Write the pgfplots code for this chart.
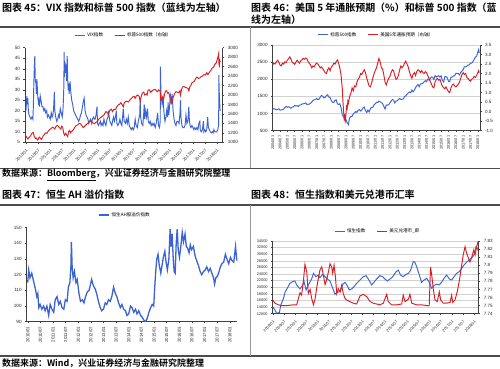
\documentclass[border=0pt]{standalone}
\usepackage{fontspec}
\setmainfont{Liberation Sans}
\newfontfamily\cjk{Noto Sans CJK SC}[BoldFont={Noto Sans CJK SC Bold}]
\usepackage{pgfplots}
\pgfplotsset{compat=1.18}
\definecolor{sblue}{RGB}{59,99,214}
\definecolor{sred}{RGB}{218,30,35}
\pgfplotsset{
  base/.style={
    scale only axis, anchor=south west,
    scaled ticks=false,
    /pgf/number format/assume math mode=true,
    /pgf/number format/1000 sep={},
    tick label style={font=\fontsize{4.6}{5}\selectfont, text=black!85},
    tick align=outside, major tick length=1.6bp,
    axis line style={black!75, line width=0.5bp},
    tick style={black!75, line width=0.4bp},
    legend image code/.code={\draw[#1] (0bp,0bp) -- (10bp,0bp);},
    legend style={draw=none, fill=none, font=\cjk\fontsize{4.6}{5}\selectfont, legend columns=2, anchor=center,
      /tikz/every even column/.append style={column sep=9bp}},
    every axis plot/.append style={line width=0.95bp},
  }
}
\begin{document}
\begin{tikzpicture}
\fill[white] (0,0) rectangle (500bp,369bp);
\path[use as bounding box] (0,0) rectangle (500bp,369bp);
% frames
\draw[black!70, line width=1.6bp] (0,342bp) -- (500bp,342bp);
\draw[black!70, line width=1.4bp] (0,200.5bp) -- (500bp,200.5bp);
\draw[black!70, line width=1.6bp] (0,164bp) -- (500bp,164bp);
\draw[black!70, line width=1.4bp] (0,13bp) -- (500bp,13bp);
\draw[black!40, line width=0.6bp] (250bp,342bp) -- (250bp,200.5bp);
\draw[black!40, line width=0.6bp] (250bp,164bp) -- (250bp,13bp);
% titles
\node[anchor=west, inner sep=0, font=\cjk\bfseries\fontsize{10}{12}\selectfont] at (2bp,361.5bp) {图表 45：VIX 指数和标普 500 指数（蓝线为左轴）};
\node[anchor=west, inner sep=0, font=\cjk\bfseries\fontsize{10}{12}\selectfont] at (251bp,361.7bp) {图表 46：美国 5 年通胀预期（\%）和标普 500 指数（蓝};
\node[anchor=west, inner sep=0, font=\cjk\bfseries\fontsize{10}{12}\selectfont] at (251bp,349.7bp) {线为左轴）};
\node[anchor=west, inner sep=0, font=\cjk\bfseries\fontsize{9}{11}\selectfont] at (2bp,194.5bp) {数据来源：\underline{Bloomberg}，兴业证券经济与金融研究院整理};
\node[anchor=west, inner sep=0, font=\cjk\bfseries\fontsize{10}{12}\selectfont] at (2bp,174bp) {图表 47：恒生 AH 溢价指数};
\node[anchor=west, inner sep=0, font=\cjk\bfseries\fontsize{10}{12}\selectfont] at (251bp,174bp) {图表 48：恒生指数和美元兑港币汇率};
\node[anchor=west, inner sep=0, font=\cjk\bfseries\fontsize{9}{11}\selectfont] at (2bp,5.8bp) {数据来源：Wind，兴业证券经济与金融研究院整理};

% ===== Chart 1 =====
\begin{axis}[base, at={(25bp,226.7bp)}, width=197.7bp, height=94.6bp,
  xmin=2009.96, xmax=2018.25, ymin=5, ymax=50, ytick={5,10,...,50},
  axis x line*=bottom, axis y line*=left,
  xtick={2010,2010.5,...,2018},
  xticklabels={2010/01,2010/07,2011/01,2011/07,2012/01,2012/07,2013/01,2013/07,2014/01,2014/07,2015/01,2015/07,2016/01,2016/07,2017/01,2017/07,2018/01},
  xticklabel style={rotate=45, anchor=north east, font=\fontsize{4.2}{4.6}\selectfont},
  legend style={at={(0.5,1.127)}}]
\addplot[sblue] coordinates {
(2010.00,20)(2010.02,24)(2010.04,27)(2010.06,23)(2010.08,26)(2010.10,20)(2010.13,18)(2010.17,17)(2010.21,16)(2010.25,17)(2010.29,16)(2010.31,22)(2010.33,33)(2010.35,40)(2010.37,46)(2010.39,35)(2010.42,33)(2010.44,28)(2010.46,35)(2010.48,30)(2010.50,26)(2010.52,24)(2010.54,25)(2010.56,22)(2010.58,24)(2010.60,27)(2010.63,25)(2010.67,22)(2010.71,22)(2010.75,20)(2010.79,21)(2010.83,19)(2010.87,20)(2010.90,17)(2010.94,18)(2010.98,17)
(2011.02,16)(2011.06,19)(2011.10,17)(2011.13,18)(2011.16,21)(2011.19,29)(2011.21,20)(2011.25,17)(2011.29,15)(2011.33,16)(2011.37,18)(2011.40,17)(2011.44,21)(2011.48,19)(2011.52,17)(2011.55,20)(2011.57,25)(2011.59,32)(2011.60,48)(2011.62,36)(2011.64,43)(2011.67,38)(2011.69,42)(2011.71,34)(2011.73,46)(2011.75,35)(2011.77,30)(2011.79,33)(2011.81,28)(2011.85,34)(2011.88,29)(2011.92,25)(2011.96,23)
(2012.00,20)(2012.04,19)(2012.08,18)(2012.12,17)(2012.17,16)(2012.21,15)(2012.25,16)(2012.29,18)(2012.33,19)(2012.37,22)(2012.40,24)(2012.44,26)(2012.48,20)(2012.52,18)(2012.56,17)(2012.60,16)(2012.63,14)(2012.67,15)(2012.71,16)(2012.75,14)(2012.79,16)(2012.83,17)(2012.87,16)(2012.90,16)(2012.94,18)(2012.98,22)
(2013.00,14)(2013.04,13)(2013.08,14)(2013.12,15)(2013.15,13)(2013.19,14)(2013.23,13)(2013.27,16)(2013.31,14)(2013.35,13)(2013.40,16)(2013.44,17)(2013.46,20)(2013.48,18)(2013.52,15)(2013.56,14)(2013.60,13)(2013.63,15)(2013.67,17)(2013.71,15)(2013.75,17)(2013.79,20)(2013.81,14)(2013.85,13)(2013.90,14)(2013.94,16)(2013.98,14)
(2014.02,13)(2014.06,18)(2014.08,21)(2014.12,15)(2014.17,14)(2014.21,16)(2014.25,14)(2014.29,17)(2014.33,13)(2014.37,12)(2014.42,11)(2014.46,12)(2014.50,11)(2014.54,12)(2014.58,16)(2014.62,13)(2014.67,12)(2014.71,15)(2014.77,18)(2014.79,26)(2014.81,17)(2014.85,14)(2014.90,13)(2014.94,19)(2014.96,23)(2014.98,16)
(2015.02,20)(2015.06,17)(2015.10,21)(2015.13,15)(2015.17,14)(2015.21,15)(2015.25,13)(2015.29,14)(2015.33,13)(2015.37,14)(2015.42,12)(2015.46,14)(2015.50,17)(2015.52,19)(2015.56,13)(2015.60,12)(2015.63,15)(2015.64,41)(2015.66,28)(2015.69,25)(2015.71,23)(2015.75,26)(2015.79,19)(2015.83,15)(2015.87,17)(2015.90,20)(2015.94,17)(2015.96,24)(2015.99,18)
(2016.02,22)(2016.06,27)(2016.10,23)(2016.13,28)(2016.17,20)(2016.21,16)(2016.25,14)(2016.29,13)(2016.33,15)(2016.37,15)(2016.42,14)(2016.46,19)(2016.48,25)(2016.50,17)(2016.54,13)(2016.58,12)(2016.63,12)(2016.67,13)(2016.71,18)(2016.75,14)(2016.79,15)(2016.83,22)(2016.85,16)(2016.88,13)(2016.92,12)(2016.96,13)
(2017.00,12)(2017.04,11)(2017.08,12)(2017.13,11)(2017.17,12)(2017.21,11)(2017.25,14)(2017.29,15)(2017.31,11)(2017.35,10)(2017.40,11)(2017.44,15)(2017.46,10)(2017.50,11)(2017.54,10)(2017.58,11)(2017.62,17)(2017.65,12)(2017.69,11)(2017.73,10)(2017.77,9.5)(2017.81,10)(2017.85,9.5)(2017.88,11)(2017.92,10)(2017.96,10)
(2018.00,10)(2018.04,11)(2018.08,13)(2018.09,37)(2018.10,30)(2018.12,25)(2018.14,20)};
\addlegendentry{VIX指数}
\addlegendimage{sred}
\addlegendentry{标普500指数（右轴）}
\end{axis}
\begin{axis}[base, at={(25bp,226.7bp)}, width=197.7bp, height=94.6bp,
  xmin=2009.96, xmax=2018.25, ymin=1000, ymax=3000, ytick={1000,1200,...,3000},
  axis x line=none, axis y line*=right]
\addplot[sred] coordinates {
(2010.00,1130)(2010.04,1100)(2010.08,1070)(2010.12,1100)(2010.17,1120)(2010.21,1150)(2010.25,1190)(2010.30,1210)(2010.35,1120)(2010.40,1080)(2010.44,1090)(2010.48,1050)(2010.52,1070)(2010.56,1110)(2010.60,1090)(2010.65,1060)(2010.69,1100)(2010.73,1140)(2010.79,1180)(2010.83,1200)(2010.88,1190)(2010.92,1225)(2010.96,1250)
(2011.00,1270)(2011.06,1290)(2011.12,1320)(2011.17,1300)(2011.21,1280)(2011.25,1330)(2011.31,1360)(2011.37,1330)(2011.42,1300)(2011.46,1280)(2011.50,1340)(2011.54,1320)(2011.58,1200)(2011.62,1150)(2011.67,1190)(2011.71,1150)(2011.75,1120)(2011.79,1230)(2011.83,1250)(2011.87,1200)(2011.90,1220)(2011.94,1240)(2011.98,1260)
(2012.04,1310)(2012.10,1350)(2012.17,1370)(2012.23,1400)(2012.29,1390)(2012.35,1350)(2012.40,1310)(2012.44,1330)(2012.50,1360)(2012.56,1390)(2012.62,1410)(2012.69,1450)(2012.75,1440)(2012.81,1410)(2012.87,1390)(2012.92,1420)(2012.98,1430)
(2013.04,1480)(2013.10,1510)(2013.17,1540)(2013.23,1560)(2013.29,1590)(2013.35,1650)(2013.40,1630)(2013.46,1600)(2013.52,1680)(2013.58,1700)(2013.63,1650)(2013.69,1700)(2013.75,1690)(2013.81,1750)(2013.87,1790)(2013.92,1800)(2013.98,1840)
(2014.04,1790)(2014.08,1750)(2014.12,1830)(2014.17,1860)(2014.23,1870)(2014.29,1850)(2014.35,1890)(2014.42,1930)(2014.48,1960)(2014.54,1970)(2014.58,1930)(2014.63,1980)(2014.69,2000)(2014.75,1970)(2014.79,1870)(2014.83,1960)(2014.88,2040)(2014.94,2060)(2014.98,2000)
(2015.04,2020)(2015.08,2000)(2015.12,2100)(2015.17,2110)(2015.23,2060)(2015.29,2090)(2015.35,2110)(2015.42,2120)(2015.48,2080)(2015.52,2070)(2015.56,2110)(2015.60,2090)(2015.63,2080)(2015.65,1900)(2015.69,1920)(2015.73,1960)(2015.77,1900)(2015.81,2010)(2015.85,2080)(2015.90,2090)(2015.94,2040)(2015.98,2050)
(2016.02,1990)(2016.06,1880)(2016.10,1900)(2016.13,1850)(2016.17,1940)(2016.23,2030)(2016.29,2070)(2016.35,2060)(2016.40,2050)(2016.46,2090)(2016.48,2000)(2016.52,2100)(2016.56,2170)(2016.62,2180)(2016.69,2160)(2016.75,2150)(2016.79,2140)(2016.83,2090)(2016.87,2170)(2016.92,2210)(2016.96,2260)
(2017.00,2270)(2017.06,2290)(2017.12,2350)(2017.17,2380)(2017.23,2350)(2017.29,2360)(2017.35,2390)(2017.40,2400)(2017.46,2430)(2017.52,2420)(2017.58,2470)(2017.63,2430)(2017.69,2480)(2017.75,2520)(2017.81,2570)(2017.87,2590)(2017.92,2650)(2017.98,2680)
(2018.02,2750)(2018.06,2820)(2018.08,2870)(2018.09,2660)(2018.11,2620)(2018.13,2730)(2018.15,2700)};
\end{axis}

% ===== Chart 2 =====
\begin{axis}[base, at={(272.7bp,238.3bp)}, width=207.3bp, height=85.7bp,
  xmin=2004, xmax=2018.15, ymin=500, ymax=3000, ytick={500,1000,...,3000},
  axis x line*=bottom, axis y line*=left, ymajorgrids, grid style={black!18, line width=0.4bp},
  xtick={2004,2004.5,...,2018},
  xticklabels={2004/01,2004/07,2005/01,2005/07,2006/01,2006/07,2007/01,2007/07,2008/01,2008/07,2009/01,2009/07,2010/01,2010/07,2011/01,2011/07,2012/01,2012/07,2013/01,2013/07,2014/01,2014/07,2015/01,2015/07,2016/01,2016/07,2017/01,2017/07,2018/01},
  xticklabel style={rotate=90, anchor=east, font=\fontsize{3.9}{4.5}\selectfont},
  legend style={at={(0.5,1.117)}}]
\addplot[sblue] coordinates {
(2004.00,1130)(2004.08,1145)(2004.17,1125)(2004.25,1110)(2004.33,1120)(2004.42,1140)(2004.50,1100)(2004.58,1105)(2004.67,1115)(2004.75,1130)(2004.83,1175)(2004.92,1210)
(2005.00,1180)(2005.08,1200)(2005.17,1180)(2005.25,1155)(2005.33,1190)(2005.42,1195)(2005.50,1235)(2005.58,1220)(2005.67,1230)(2005.75,1205)(2005.83,1250)(2005.92,1250)
(2006.00,1280)(2006.08,1280)(2006.17,1295)(2006.25,1310)(2006.33,1270)(2006.42,1270)(2006.50,1275)(2006.58,1300)(2006.67,1335)(2006.75,1380)(2006.83,1400)(2006.92,1418)
(2007.00,1438)(2007.08,1406)(2007.17,1420)(2007.25,1482)(2007.33,1530)(2007.42,1503)(2007.50,1455)(2007.58,1473)(2007.67,1527)(2007.75,1549)(2007.83,1481)(2007.92,1468)
(2008.00,1378)(2008.08,1330)(2008.17,1322)(2008.25,1385)(2008.33,1400)(2008.42,1280)(2008.50,1267)(2008.58,1283)(2008.67,1165)(2008.75,968)(2008.83,896)(2008.92,903)
(2009.00,825)(2009.08,735)(2009.17,680)(2009.21,797)(2009.25,872)(2009.33,919)(2009.42,919)(2009.50,987)(2009.58,1020)(2009.67,1057)(2009.75,1036)(2009.83,1095)(2009.92,1115)
(2010.00,1073)(2010.08,1104)(2010.17,1169)(2010.25,1187)(2010.33,1089)(2010.42,1030)(2010.50,1101)(2010.58,1049)(2010.67,1141)(2010.75,1183)(2010.83,1180)(2010.92,1257)
(2011.00,1286)(2011.08,1327)(2011.17,1325)(2011.25,1363)(2011.33,1345)(2011.42,1320)(2011.50,1292)(2011.58,1218)(2011.67,1131)(2011.75,1253)(2011.83,1246)(2011.92,1257)
(2012.00,1312)(2012.08,1365)(2012.17,1408)(2012.25,1397)(2012.33,1310)(2012.42,1362)(2012.50,1379)(2012.58,1406)(2012.67,1440)(2012.75,1412)(2012.83,1416)(2012.92,1426)
(2013.00,1498)(2013.08,1514)(2013.17,1569)(2013.25,1597)(2013.33,1631)(2013.42,1606)(2013.50,1686)(2013.58,1633)(2013.67,1682)(2013.75,1757)(2013.83,1806)(2013.92,1848)
(2014.00,1783)(2014.08,1859)(2014.17,1872)(2014.25,1884)(2014.33,1924)(2014.42,1960)(2014.50,1931)(2014.58,2003)(2014.67,1972)(2014.75,2018)(2014.83,2068)(2014.92,2059)
(2015.00,1995)(2015.08,2105)(2015.17,2068)(2015.25,2086)(2015.33,2107)(2015.42,2063)(2015.50,2104)(2015.58,1973)(2015.67,1920)(2015.75,2079)(2015.83,2080)(2015.92,2044)
(2016.00,1940)(2016.08,1932)(2016.17,2060)(2016.25,2065)(2016.33,2097)(2016.42,2099)(2016.50,2174)(2016.58,2171)(2016.67,2168)(2016.75,2126)(2016.83,2199)(2016.92,2239)
(2017.00,2279)(2017.08,2364)(2017.17,2363)(2017.25,2384)(2017.33,2412)(2017.42,2423)(2017.50,2470)(2017.58,2472)(2017.67,2519)(2017.75,2575)(2017.83,2648)(2017.92,2674)
(2018.00,2790)(2018.06,2870)(2018.10,2760)};
\addlegendentry{标普500指数}
\addlegendimage{sred}
\addlegendentry{美国5年通胀预期（右轴）}
\end{axis}
\begin{axis}[base, at={(272.7bp,238.3bp)}, width=207.3bp, height=85.7bp,
  xmin=2004, xmax=2018.15, ymin=-1, ymax=3.5, ytick={-1,-0.5,...,3.5},
  yticklabel style={/pgf/number format/.cd, fixed, fixed zerofill, precision=1},
  axis x line=none, axis y line*=right]
\addplot[sred] coordinates {
(2004.00,2.45)(2004.08,2.55)(2004.17,2.50)(2004.25,2.62)(2004.33,2.70)(2004.42,2.60)(2004.50,2.45)(2004.58,2.40)(2004.67,2.55)(2004.75,2.50)(2004.83,2.62)(2004.92,2.58)
(2005.00,2.70)(2005.08,2.78)(2005.17,2.88)(2005.25,2.75)(2005.33,2.60)(2005.42,2.55)(2005.50,2.48)(2005.58,2.60)(2005.67,2.70)(2005.75,2.62)(2005.83,2.55)(2005.92,2.68)
(2006.00,2.72)(2006.08,2.80)(2006.17,2.75)(2006.25,2.82)(2006.33,2.78)(2006.42,2.62)(2006.50,2.55)(2006.58,2.45)(2006.67,2.30)(2006.75,2.40)(2006.83,2.35)(2006.92,2.48)
(2007.00,2.55)(2007.08,2.50)(2007.17,2.40)(2007.25,2.30)(2007.33,2.35)(2007.42,2.25)(2007.50,2.15)(2007.58,2.05)(2007.67,2.00)(2007.75,2.20)(2007.83,2.30)(2007.92,2.15)
(2008.00,2.35)(2008.08,2.40)(2008.17,2.55)(2008.25,2.50)(2008.33,2.62)(2008.42,2.72)(2008.50,2.55)(2008.58,2.30)(2008.67,1.90)(2008.75,1.20)(2008.79,0.60)(2008.83,0.10)(2008.88,-0.40)(2008.92,-0.25)(2008.96,-0.45)
(2009.00,-0.10)(2009.04,0.25)(2009.08,0.15)(2009.13,0.55)(2009.17,0.45)(2009.25,0.80)(2009.33,0.95)(2009.42,1.25)(2009.50,1.10)(2009.58,1.35)(2009.67,1.30)(2009.75,1.55)(2009.83,1.70)(2009.92,1.80)
(2010.00,2.00)(2010.08,1.95)(2010.17,2.10)(2010.25,2.20)(2010.33,2.05)(2010.42,1.75)(2010.50,1.55)(2010.58,1.35)(2010.67,1.30)(2010.75,1.50)(2010.83,1.75)(2010.92,2.00)
(2011.00,2.15)(2011.08,2.30)(2011.17,2.55)(2011.25,2.80)(2011.30,2.70)(2011.37,2.50)(2011.42,2.30)(2011.50,2.25)(2011.58,1.95)(2011.67,1.55)(2011.75,1.40)(2011.83,1.60)(2011.92,1.75)
(2012.00,1.85)(2012.08,2.05)(2012.17,2.20)(2012.25,2.15)(2012.33,1.90)(2012.42,1.70)(2012.50,1.75)(2012.58,1.90)(2012.67,2.20)(2012.75,2.40)(2012.83,2.30)(2012.92,2.40)
(2013.00,2.55)(2013.08,2.65)(2013.17,2.50)(2013.25,2.35)(2013.33,2.10)(2013.42,1.90)(2013.50,1.75)(2013.58,1.95)(2013.67,2.05)(2013.75,1.90)(2013.83,2.10)(2013.92,2.20)
(2014.00,2.15)(2014.08,2.05)(2014.17,2.15)(2014.25,2.05)(2014.33,2.00)(2014.42,2.10)(2014.50,2.05)(2014.58,1.90)(2014.67,1.75)(2014.75,1.60)(2014.83,1.45)(2014.92,1.30)
(2015.00,1.25)(2015.08,1.55)(2015.17,1.70)(2015.25,1.75)(2015.33,1.65)(2015.42,1.70)(2015.50,1.50)(2015.58,1.35)(2015.67,1.25)(2015.75,1.20)(2015.83,1.30)(2015.92,1.15)
(2016.00,1.05)(2016.08,1.00)(2016.17,1.25)(2016.25,1.40)(2016.33,1.45)(2016.42,1.35)(2016.50,1.30)(2016.58,1.35)(2016.67,1.45)(2016.75,1.55)(2016.83,1.75)(2016.92,1.95)
(2017.00,2.05)(2017.08,1.95)(2017.17,2.00)(2017.25,1.80)(2017.33,1.75)(2017.42,1.65)(2017.50,1.60)(2017.58,1.70)(2017.67,1.75)(2017.75,1.85)(2017.83,1.80)(2017.92,1.90)
(2018.00,2.05)(2018.05,2.15)(2018.10,2.05)};
\end{axis}

% ===== Chart 3 =====
\begin{axis}[base, at={(26.7bp,47.3bp)}, width=210.6bp, height=94bp,
  xmin=2009.96, xmax=2018.3, ymin=90, ymax=150, ytick={90,100,...,150},
  axis x line*=bottom, axis y line*=left,
  xtick={2010,2010.5,...,2018},
  xticklabels={2010/01,2010/07,2011/01,2011/07,2012/01,2012/07,2013/01,2013/07,2014/01,2014/07,2015/01,2015/07,2016/01,2016/07,2017/01,2017/07,2018/01},
  xticklabel style={rotate=90, anchor=east, font=\fontsize{4.4}{5}\selectfont},
  legend columns=1, legend style={at={(0.467,1.135)}}]
\addplot[sblue, line width=1.3bp] coordinates {
(2010.00,115)(2010.04,123)(2010.09,118)(2010.16,121)(2010.23,116)(2010.29,112)(2010.36,106)(2010.40,108)(2010.44,99)(2010.49,101)(2010.56,98)(2010.63,100)(2010.69,97)(2010.76,100)(2010.83,94)(2010.89,101)(2010.96,98)
(2011.03,96)(2011.09,104)(2011.16,106)(2011.23,101)(2011.29,103)(2011.36,99)(2011.43,98)(2011.49,104)(2011.56,103)(2011.61,112)(2011.67,115)(2011.71,125)(2011.73,141)(2011.76,125)(2011.80,118)(2011.85,122)(2011.91,115)(2011.96,117)
(2012.03,108)(2012.09,103)(2012.16,104)(2012.23,102)(2012.29,106)(2012.36,109)(2012.43,110)(2012.49,114)(2012.53,117)(2012.60,113)(2012.67,111)(2012.73,108)(2012.80,103)(2012.87,99)(2012.93,97)
(2013.00,98)(2013.07,102)(2013.13,101)(2013.20,104)(2013.27,103)(2013.33,106)(2013.40,112)(2013.47,108)(2013.53,106)(2013.60,102)(2013.67,99)(2013.73,101)(2013.80,98)(2013.87,97)(2013.93,94)
(2014.00,95)(2014.07,100)(2014.13,99)(2014.20,96)(2014.27,98)(2014.33,95)(2014.40,97)(2014.47,94)(2014.53,93)(2014.60,91)(2014.67,90)(2014.73,92)(2014.80,96)(2014.87,99)(2014.93,101)(2014.99,100)
(2015.03,112)(2015.07,122)(2015.11,130)(2015.16,133)(2015.21,126)(2015.27,121)(2015.32,126)(2015.37,131)(2015.43,135)(2015.48,128)(2015.53,123)(2015.59,130)(2015.64,149)(2015.68,138)(2015.72,146)(2015.76,131)(2015.80,122)(2015.84,121)(2015.88,140)(2015.92,149)(2015.96,136)
(2016.01,131)(2016.07,139)(2016.12,147)(2016.17,141)(2016.23,146)(2016.28,138)(2016.33,137)(2016.39,134)(2016.44,139)(2016.49,136)(2016.56,138)(2016.63,132)(2016.69,129)(2016.76,126)(2016.83,122)(2016.89,120)(2016.96,122)
(2017.03,123)(2017.09,125)(2017.16,122)(2017.23,124)(2017.29,121)(2017.36,118)(2017.40,114)(2017.45,118)(2017.51,119)(2017.56,121)(2017.63,125)(2017.69,127)(2017.76,128)(2017.83,133)(2017.89,130)(2017.96,127)
(2018.03,131)(2018.09,129)(2018.16,128)(2018.23,138)(2018.28,129)};
\addlegendentry{恒生AH股溢价指数}
\end{axis}

% ===== Chart 4 =====
\begin{axis}[base, at={(272.7bp,55.3bp)}, width=206bp, height=72.7bp,
  xmin=2009, xmax=2018.2, ymin=12000, ymax=34000, ytick={12000,14000,...,34000},
  axis x line*=bottom, axis y line*=left, ymajorgrids, grid style={black!18, line width=0.4bp},
  xtick={2009,2009.5,...,2018},
  xticklabels={2009/01,2009/07,2010/01,2010/07,2011/01,2011/07,2012/01,2012/07,2013/01,2013/07,2014/01,2014/07,2015/01,2015/07,2016/01,2016/07,2017/01,2017/07,2018/01},
  xticklabel style={rotate=45, anchor=north east, font=\fontsize{3.9}{4.5}\selectfont},
  yticklabel style={font=\fontsize{3.9}{4.5}\selectfont},
  legend style={at={(0.51,1.128)}}]
\addplot[sblue] coordinates {
(2009.00,14100)(2009.10,13100)(2009.18,12100)(2009.30,12400)(2009.36,14600)(2009.48,16600)(2009.55,18500)(2009.65,19700)(2009.77,21200)(2009.89,21700)(2009.99,21900)
(2010.07,20700)(2010.22,19500)(2010.34,20700)(2010.40,21700)(2010.49,19200)(2010.59,20700)(2010.74,22500)(2010.82,24200)(2010.93,23200)
(2011.04,23700)(2011.11,22900)(2011.23,23900)(2011.34,23200)(2011.44,22500)(2011.56,21900)(2011.68,19700)(2011.78,17900)(2011.89,18500)
(2012.01,18700)(2012.13,20900)(2012.23,21500)(2012.33,20500)(2012.42,19200)(2012.53,19500)(2012.63,20200)(2012.75,21200)(2012.90,22200)
(2013.05,23200)(2013.17,23500)(2013.27,22500)(2013.42,20700)(2013.52,21500)(2013.64,22500)(2013.79,23500)(2013.91,23200)
(2014.01,22500)(2014.12,21900)(2014.24,22500)(2014.36,23200)(2014.51,24700)(2014.61,25200)(2014.71,23700)(2014.83,23200)(2014.95,23900)
(2015.06,24200)(2015.16,25200)(2015.28,27800)(2015.35,27600)(2015.43,26200)(2015.55,23700)(2015.65,21500)(2015.76,22200)(2015.88,22700)(2015.99,21500)
(2016.10,19700)(2016.20,20500)(2016.32,20900)(2016.44,20700)(2016.54,21500)(2016.65,22700)(2016.77,23700)(2016.89,22500)(2016.99,22200)
(2017.10,23200)(2017.21,24200)(2017.33,24700)(2017.44,25700)(2017.54,26700)(2017.66,27600)(2017.78,28300)(2017.88,28800)(2017.99,29800)
(2018.08,32300)(2018.15,31600)(2018.20,30800)};
\addlegendentry{恒生指数}
\addlegendimage{sred}
\addlegendentry{美元兑港币\_即}
\end{axis}
\begin{axis}[base, at={(272.7bp,55.3bp)}, width=206bp, height=72.7bp,
  xmin=2009, xmax=2018.2, ymin=7.74, ymax=7.83, ytick={7.74,7.75,...,7.83},
  yticklabel style={/pgf/number format/.cd, fixed, precision=2},
  axis x line=none, axis y line*=right]
\addplot[sred] coordinates {
(2009.00,7.757)(2009.10,7.753)(2009.25,7.751)(2009.40,7.750)(2009.63,7.750)(2009.92,7.751)
(2010.07,7.751)(2010.15,7.759)(2010.22,7.766)(2010.29,7.763)(2010.37,7.780)(2010.44,7.801)(2010.52,7.792)(2010.59,7.765)(2010.67,7.770)(2010.74,7.759)(2010.82,7.751)(2010.89,7.758)(2010.96,7.771)
(2011.04,7.784)(2011.11,7.794)(2011.19,7.798)(2011.26,7.788)(2011.34,7.776)(2011.41,7.782)(2011.49,7.792)(2011.56,7.802)(2011.63,7.798)(2011.68,7.790)(2011.74,7.800)(2011.80,7.786)(2011.86,7.765)(2011.93,7.771)
(2012.01,7.767)(2012.08,7.775)(2012.15,7.765)(2012.23,7.759)(2012.30,7.757)(2012.45,7.755)(2012.60,7.753)(2012.75,7.752)(2012.90,7.762)
(2013.05,7.764)(2013.20,7.761)(2013.35,7.755)(2013.49,7.753)(2013.64,7.752)(2013.79,7.751)(2013.94,7.753)
(2014.09,7.764)(2014.16,7.755)(2014.31,7.751)(2014.54,7.751)(2014.76,7.752)(2014.83,7.763)(2014.91,7.755)
(2015.06,7.758)(2015.13,7.764)(2015.21,7.753)(2015.43,7.751)(2015.65,7.751)(2015.88,7.750)(2015.99,7.750)
(2016.05,7.798)(2016.11,7.786)(2016.17,7.771)(2016.25,7.757)(2016.35,7.755)(2016.44,7.767)(2016.50,7.757)(2016.62,7.753)(2016.77,7.753)(2016.92,7.754)(2016.99,7.763)
(2017.04,7.754)(2017.14,7.757)(2017.24,7.767)(2017.33,7.780)(2017.44,7.800)(2017.51,7.813)(2017.59,7.823)(2017.66,7.815)(2017.74,7.809)(2017.81,7.804)(2017.88,7.809)(2017.98,7.819)
(2018.04,7.813)(2018.11,7.823)(2018.18,7.830)};
\end{axis}
\end{tikzpicture}
\end{document}
